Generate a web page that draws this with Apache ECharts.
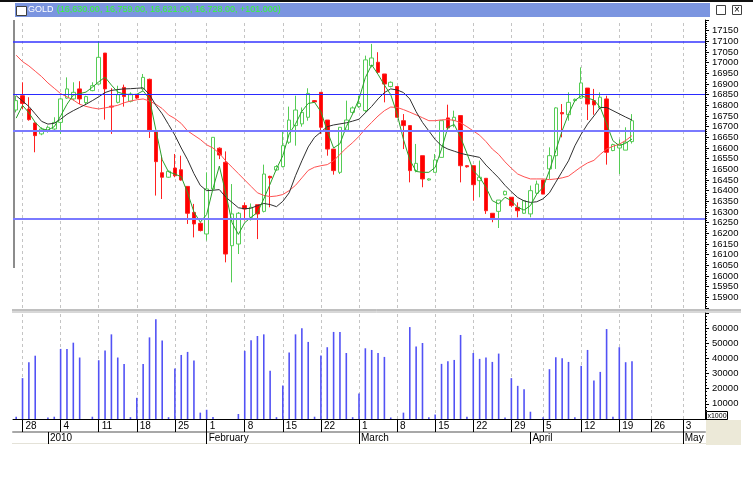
<!DOCTYPE html>
<html><head><meta charset="utf-8">
<script src="https://cdn.jsdelivr.net/npm/echarts@6/dist/echarts.min.js"></script>
<style>html,body{margin:0;padding:0;background:#fff;}#c{width:753px;height:483px;}</style>
</head><body><div id="c"></div>
<script>
const dates = [
'2009-12-26','2009-12-28','2009-12-29','2009-12-30','2009-12-31','2010-01-01','2010-01-02',
'2010-01-04','2010-01-05','2010-01-06','2010-01-07','2010-01-08','2010-01-09',
'2010-01-11','2010-01-12','2010-01-13','2010-01-14','2010-01-15','2010-01-16',
'2010-01-18','2010-01-19','2010-01-20','2010-01-21','2010-01-22','2010-01-23',
'2010-01-25','2010-01-27','2010-01-28','2010-01-29','2010-01-30',
'2010-02-01','2010-02-02','2010-02-03','2010-02-04','2010-02-05','2010-02-06',
'2010-02-08','2010-02-09','2010-02-10','2010-02-11','2010-02-12','2010-02-13',
'2010-02-15','2010-02-16','2010-02-17','2010-02-18','2010-02-19','2010-02-20',
'2010-02-22','2010-02-23','2010-02-24','2010-02-25','2010-02-26','2010-02-27',
'2010-03-01','2010-03-02','2010-03-03','2010-03-04','2010-03-05','2010-03-06',
'2010-03-08','2010-03-09','2010-03-10','2010-03-11','2010-03-12','2010-03-13',
'2010-03-15','2010-03-16','2010-03-17','2010-03-18','2010-03-19','2010-03-20',
'2010-03-22','2010-03-23','2010-03-24','2010-03-25','2010-03-26','2010-03-27',
'2010-03-29','2010-03-30','2010-03-31','2010-04-01','2010-04-03',
'2010-04-05','2010-04-06','2010-04-07','2010-04-08','2010-04-09','2010-04-10',
'2010-04-12','2010-04-13','2010-04-14','2010-04-15','2010-04-16','2010-04-17',
'2010-04-19','2010-04-20','2010-04-21','2010-04-22','2010-04-23',
'2010-04-26','2010-04-27','2010-04-28','2010-04-29','2010-04-30',
'2010-05-03','2010-05-04','2010-05-05','2010-05-06'
];
const opens = [16778,16845,16783,16717,16666,16678,16689,16720,16834,16830,16877,16813,16869,16900,17045,16796,16814,16884,16819,16850,16877,16922,16677,16484,16463,16506,16498,16420,16298,16247,16197,16408,16599,16533,16142,16150,16330,16275,16334,16303,16467,16497,16513,16627,16705,16713,16744,16822,16861,16731,16595,16486,16684,16767,16794,16775,16986,17002,16947,16888,16888,16728,16705,16494,16564,16450,16486,16556,16741,16728,16752,16517,16517,16447,16458,16294,16303,16381,16369,16322,16294,16291,16388,16450,16502,16564,16766,16756,16822,16834,16881,16822,16788,16830,16588,16600,16590,16630];
const closes = [16822,16809,16733,16658,16689,16697,16720,16830,16877,16861,16830,16841,16892,17025,16877,16792,16850,16841,16853,16834,16931,16684,16536,16463,16491,16470,16450,16294,16244,16213,16408,16650,16567,16103,16291,16294,16314,16322,16291,16478,16460,16513,16611,16731,16778,16767,16856,16816,16697,16595,16494,16697,16731,16788,16809,17013,17022,16955,16900,16908,16744,16705,16494,16528,16455,16455,16544,16728,16694,16744,16517,16512,16428,16463,16306,16272,16356,16397,16330,16306,16353,16400,16431,16384,16564,16788,16760,16814,16828,16905,16806,16802,16838,16580,16616,16617,16627,16728];
const lows = [16767,16783,16728,16580,16660,16672,16681,16666,16830,16822,16806,16806,16866,16897,16733,16666,16809,16794,16814,16830,16869,16647,16377,16361,16460,16463,16447,16244,16181,16209,16166,16400,16548,16064,15970,16103,16260,16260,16173,16298,16322,16494,16509,16619,16611,16700,16728,16812,16666,16564,16475,16478,16681,16760,16788,16767,16978,16947,16814,16884,16744,16595,16439,16486,16416,16447,16486,16556,16689,16697,16439,16508,16353,16369,16291,16252,16225,16378,16322,16275,16291,16275,16384,16384,16455,16502,16650,16728,16818,16830,16731,16756,16783,16522,16585,16478,16590,16621];
const highs = [16845,16908,16838,16720,16697,16705,16744,16834,16931,16908,16913,16845,16908,17100,17045,16880,16892,16897,16861,16853,16947,16925,16677,16564,16494,16572,16564,16420,16338,16252,16486,16650,16603,16584,16431,16300,16345,16340,16334,16522,16470,16520,16681,16794,16845,16790,16880,16825,16861,16731,16595,16697,16822,16795,16845,17033,17088,17049,16947,16912,16888,16759,16705,16619,16564,16458,16572,16728,16803,16775,16752,16520,16517,16541,16458,16294,16356,16400,16369,16345,16353,16424,16447,16450,16603,16791,16806,16861,16832,16978,16881,16877,16861,16845,16620,16640,16697,16759];
const maShort = [16740,16800,16765,16720,16690,16684,16700,16750,16805,16848,16855,16862,16885,16910,16932,16895,16862,16853,16850,16852,16868,16830,16685,16545,16488,16478,16465,16390,16300,16252,16288,16410,16515,16390,16250,16195,16250,16275,16298,16361,16431,16502,16564,16666,16713,16772,16809,16814,16770,16680,16600,16620,16700,16760,16830,16930,16990,16945,16895,16850,16760,16640,16545,16490,16486,16486,16509,16595,16697,16710,16650,16575,16494,16463,16416,16353,16338,16369,16353,16322,16309,16330,16384,16416,16494,16588,16681,16759,16822,16845,16834,16825,16791,16713,16634,16611,16622,16642];
const maMid = [16845,16820,16795,16760,16725,16712,16716,16735,16758,16775,16790,16805,16822,16840,16860,16870,16874,16877,16878,16880,16882,16850,16800,16760,16710,16660,16600,16545,16480,16425,16400,16402,16405,16370,16345,16320,16315,16318,16330,16340,16335,16325,16350,16390,16470,16540,16605,16650,16675,16700,16708,16713,16718,16726,16735,16765,16795,16830,16860,16877,16872,16860,16830,16770,16720,16680,16640,16610,16595,16585,16575,16568,16562,16556,16520,16490,16460,16425,16395,16368,16352,16345,16348,16362,16390,16440,16490,16540,16610,16665,16712,16750,16790,16790,16775,16760,16745,16731];
const maLong = [17035,17005,16985,16960,16935,16905,16880,16855,16840,16825,16805,16795,16788,16783,16788,16794,16800,16812,16820,16826,16830,16820,16805,16785,16755,16738,16715,16680,16660,16640,16615,16600,16575,16540,16510,16480,16450,16420,16390,16378,16372,16375,16382,16400,16425,16460,16495,16510,16517,16522,16540,16570,16600,16625,16655,16690,16720,16750,16775,16792,16790,16780,16768,16755,16742,16728,16728,16732,16733,16730,16718,16700,16680,16660,16630,16595,16570,16535,16505,16478,16465,16455,16455,16455,16452,16455,16460,16468,16490,16512,16530,16542,16570,16595,16608,16618,16635,16658];
const volumes = [1500,27000,37500,41800,0,1000,1500,46300,46300,50400,40600,0,1500,38800,45200,55900,40600,36400,1200,14000,36400,53900,65800,51800,1200,33300,42300,44300,38600,4200,6100,1300,0,0,0,3300,45000,52000,54800,55900,31800,1200,22100,43900,55900,59900,50900,1500,41900,47400,57500,57500,43600,1200,16900,46700,45600,43600,41000,1000,0,4200,60700,47800,50200,1200,2900,36400,38200,39000,55500,1500,43600,39700,40600,37700,43200,1000,27000,21900,19700,4800,0,1200,32900,40800,40100,37700,1200,35100,45600,25400,31100,59400,1500,47400,37500,38200];
const levelLines = [17100, 16850, 16680, 16270];
const priceAxis = {min: 15850, max: 17200, step: 50};
const volumeAxis = {min: 0, max: 70000, step: 10000};
const monthNames = {'2010-01':'2010','2010-02':'February','2010-03':'March','2010-04':'April','2010-05':'May'};
const titleName = 'GOLD';
const titleValues = '(16,630.00, 16,759.00, 16,621.00, 16,728.00, +101.000)';

const FONT = 'Liberation Sans';
const isMonday = dates.map(d => new Date(d + 'T00:00:00Z').getUTCDay() === 1);
const isMonthStart = dates.map((d, i) => i > 0 && d.slice(0, 7) !== dates[i - 1].slice(0, 7));
const mondayDates = dates.filter((d, i) => isMonday[i]);
const candleData = opens.map((o, i) => [o, closes[i], lows[i], highs[i]]);

const dashStyle = {color: '#c4c4c4', type: [3, 3], width: 1};
const vLines = () => mondayDates.map(d => ({xAxis: d}));
const levelColors = ['#3535ff', '#2a2aff', '#7a7aff', '#7a7aff'];
const levelWidths = [1.5, 1, 2, 2];

const chart = echarts.init(document.getElementById('c'), null, {renderer: 'canvas'});
chart.setOption({
  animation: false,
  backgroundColor: '#ffffff',
  grid: [
    {left: 13, right: 48, top: 20, height: 288},
    {left: 13, right: 48, top: 313, height: 106}
  ],
  xAxis: [
    {gridIndex: 0, type: 'category', data: dates, boundaryGap: true,
     axisLine: {show: false}, axisTick: {show: false}, axisLabel: {show: false}, splitLine: {show: false}},
    {gridIndex: 1, type: 'category', data: dates, boundaryGap: true, position: 'bottom',
     axisLine: {show: true, lineStyle: {color: '#000', width: 1}},
     axisTick: {show: true, alignWithLabel: true, interval: (i) => isMonday[i], length: 13, lineStyle: {color: '#000'}},
     axisLabel: {show: true, interval: (i) => isMonday[i], formatter: (v) => String(+v.slice(8)),
                 align: 'left', margin: 2, padding: [0, 0, 0, 3], fontSize: 10, fontFamily: FONT, color: '#000'},
     splitLine: {show: false}},
    {gridIndex: 1, type: 'category', data: dates, boundaryGap: true, position: 'bottom', offset: 13,
     axisLine: {show: true, lineStyle: {color: '#a8a8a8', width: 2}},
     axisTick: {show: true, alignWithLabel: true, interval: (i) => isMonthStart[i], length: 12, lineStyle: {color: '#000'}},
     axisLabel: {show: true, interval: (i) => isMonthStart[i], formatter: (v) => monthNames[v.slice(0, 7)] || '',
                 align: 'left', margin: 1, padding: [0, 0, 0, 2], fontSize: 10, fontFamily: FONT, color: '#000'},
     splitLine: {show: false}}
  ],
  yAxis: [
    {gridIndex: 0, type: 'value', position: 'right', min: priceAxis.min, max: priceAxis.max, interval: priceAxis.step,
     axisLine: {show: true, lineStyle: {color: '#000'}},
     axisTick: {show: true, length: 4, lineStyle: {color: '#000'}},
     minorTick: {show: true, splitNumber: 5, length: 2, lineStyle: {color: '#000'}},
     axisLabel: {showMinLabel: false, showMaxLabel: false, margin: 7, fontSize: 9.5, fontFamily: FONT, color: '#000',
                 formatter: (v) => String(v)},
     splitLine: {show: false}, minorSplitLine: {show: false}},
    {gridIndex: 1, type: 'value', position: 'right', min: volumeAxis.min, max: volumeAxis.max, interval: volumeAxis.step,
     axisLine: {show: true, lineStyle: {color: '#000'}},
     axisTick: {show: true, length: 4, lineStyle: {color: '#000'}},
     minorTick: {show: true, splitNumber: 5, length: 2, lineStyle: {color: '#000'}},
     axisLabel: {showMinLabel: false, showMaxLabel: false, margin: 7, fontSize: 9.5, fontFamily: FONT, color: '#000',
                 formatter: (v) => String(v)},
     splitLine: {show: false}, minorSplitLine: {show: false}}
  ],
  series: [
    {type: 'candlestick', xAxisIndex: 0, yAxisIndex: 0, data: candleData, barWidth: 4,
     itemStyle: {color: '#ffffff', color0: '#ff0000', borderColor: '#55cc55', borderColor0: '#ff2020', borderWidth: 1},
     markLine: {silent: true, symbol: 'none', label: {show: false}, z: 1, animation: false,
       lineStyle: dashStyle, data: vLines()}},
    ...levelLines.map((y, k) => ({
      type: 'line', xAxisIndex: 0, yAxisIndex: 0, data: [], z: 5,
      markLine: {silent: true, symbol: 'none', label: {show: false}, animation: false,
        lineStyle: {color: levelColors[k], width: levelWidths[k], type: 'solid'},
        data: [{yAxis: y}]}
    })),
    {type: 'line', xAxisIndex: 0, yAxisIndex: 0, data: maLong, showSymbol: false, symbol: 'none', z: 3,
     lineStyle: {color: '#ff5050', width: 1}},
    {type: 'line', xAxisIndex: 0, yAxisIndex: 0, data: maMid, showSymbol: false, symbol: 'none', z: 3,
     lineStyle: {color: '#303030', width: 1}},
    {type: 'line', xAxisIndex: 0, yAxisIndex: 0, data: maShort, showSymbol: false, symbol: 'none', z: 4,
     lineStyle: {color: '#2aa02a', width: 1}},
    {type: 'bar', xAxisIndex: 1, yAxisIndex: 1, data: volumes, barWidth: 1.6,
     itemStyle: {color: '#5252f5'},
     markLine: {silent: true, symbol: 'none', label: {show: false}, z: 1, animation: false,
       lineStyle: dashStyle, data: vLines()}}
  ],
  graphic: [
    {type: 'rect', shape: {x: 0, y: 0, width: 753, height: 2}, style: {fill: '#101010'}, silent: true},
    {type: 'rect', shape: {x: 15, y: 3, width: 695, height: 14}, style: {fill: '#7b95e0'}, silent: true},
    {type: 'rect', shape: {x: 16.5, y: 6.5, width: 10, height: 9}, style: {fill: '#ffffff', stroke: '#404040', lineWidth: 1}, silent: true},
    {type: 'text', x: 28, y: 10, style: {text: '{w|' + titleName + '} {g|' + titleValues + '}', verticalAlign: 'middle',
      rich: {w: {fill: '#ffffff', fontSize: 9, fontFamily: FONT}, g: {fill: '#33ff33', fontSize: 9, fontFamily: FONT}}}, silent: true},
    {type: 'rect', shape: {x: 716.5, y: 5.5, width: 9, height: 9}, style: {fill: '#ffffff', stroke: '#404040', lineWidth: 1}, silent: true},
    {type: 'rect', shape: {x: 732.5, y: 5.5, width: 9, height: 9}, style: {fill: '#ffffff', stroke: '#404040', lineWidth: 1}, silent: true},
    {type: 'text', x: 737, y: 10.5, style: {text: '×', fontSize: 10, fontFamily: FONT, fill: '#000', align: 'center', verticalAlign: 'middle'}, silent: true},
    {type: 'line', shape: {x1: 14, y1: 20, x2: 14, y2: 268}, style: {stroke: '#8c8c8c', lineWidth: 2}, silent: true},
    {type: 'line', shape: {x1: 12, y1: 310, x2: 741, y2: 310}, style: {stroke: '#808080', lineWidth: 1}, silent: true},
    {type: 'line', shape: {x1: 12, y1: 312, x2: 741, y2: 312}, style: {stroke: '#b0b0b0', lineWidth: 1}, silent: true},
    {type: 'line', shape: {x1: 12, y1: 443.5, x2: 706, y2: 443.5}, style: {stroke: '#e4e2d8', lineWidth: 1}, silent: true},
    {type: 'rect', shape: {x: 706, y: 420, width: 35, height: 25}, style: {fill: '#ece9d8'}, silent: true},
    {type: 'rect', shape: {x: 706.5, y: 411.5, width: 21, height: 8}, style: {fill: '#ffffff', stroke: '#000', lineWidth: 1}, silent: true},
    {type: 'text', x: 717, y: 416, style: {text: 'x1000', fontSize: 7, fontFamily: FONT, fill: '#000', align: 'center', verticalAlign: 'middle'}, silent: true}
  ]
});
</script></body></html>
